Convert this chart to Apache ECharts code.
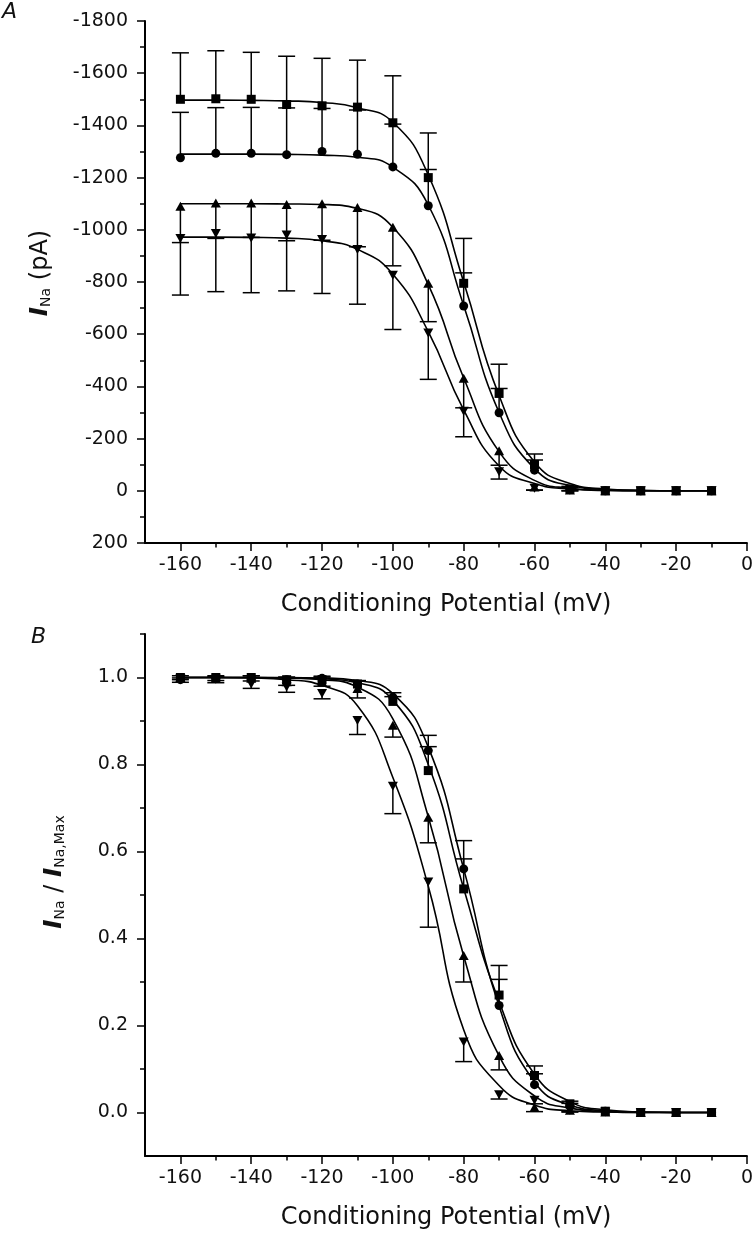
<!DOCTYPE html>
<html>
<head>
<meta charset="utf-8"/>
<title>INa inactivation</title>
<script src="https://cdn.jsdelivr.net/npm/echarts@6/dist/echarts.min.js"></script>
<style>
html, body { margin: 0; padding: 0; background: #fff; }
#main { width: 756px; height: 1240px; }
</style>
</head>
<body>
<div id="main"></div>
<script type="text/javascript">
// conditioning potentials (mV)
var volts = [-160, -150, -140, -130, -120, -110, -100, -90, -80, -70, -60, -50, -40, -30, -20, -10];

// panel A: peak current (pA)
var sqA = [-1500, -1502, -1500, -1480, -1475, -1470, -1410, -1200, -795, -373, -101, -7, 0, 0, 0, 0];
var ciA = [-1276, -1293, -1293, -1288, -1300, -1289, -1241, -1092, -708, -299, -79, -5, 0, 0, 0, 0];
var trA = [-1090, -1103, -1103, -1097, -1100, -1085, -1010, -795, -431, -153, -15, -3, 0, 0, 0, 0];
var itA = [-967, -986, -969, -980, -963, -925, -826, -605, -305, -73, -10, -2, 0, 0, 0, 0];
// error bars A (squares/circles drawn upward, triangles downward)
var sqErrA = [178, 184, 180, 185, 182, 180, 180, 171, 172, 112, 40, 10, 0, 0, 0, 0];
var ciErrA = [174, 175, 176, 179, 165, 170, 164, 139, 127, 93, 39, 8, 0, 0, 0, 0];
var trErrA = [139, 136, 132, 139, 140, 150, 148, 147, 113, 55, 12, 3, 0, 0, 0, 0];
var itErrA = [217, 223, 210, 214, 207, 210, 208, 178, 98, 28, 8, 2, 0, 0, 0, 0];
// fitted curves A
var sqFitA = [-1497, -1497, -1496, -1494, -1488, -1468, -1412, -1210, -800, -365, -110, -28, -7, -2, 0, 0];
var ciFitA = [-1290, -1290, -1290, -1289, -1286, -1278, -1240, -1095, -710, -300, -85, -20, -5, -1, 0, 0];
var trFitA = [-1100, -1100, -1100, -1099, -1097, -1082, -1010, -790, -432, -150, -40, -10, -2, 0, 0, 0];
var itFitA = [-972, -972, -971, -968, -958, -925, -830, -610, -310, -95, -28, -7, -1, 0, 0, 0];

// panel B: normalised current
var sqB = [1.0, 1.0, 1.0, 0.995, 0.995, 0.985, 0.945, 0.786, 0.514, 0.27, 0.085, 0.02, 0.003, 0, 0, 0];
var ciB = [0.995, 0.998, 1.0, 0.995, 0.998, 0.985, 0.955, 0.832, 0.56, 0.246, 0.064, 0.015, 0.003, 0, 0, 0];
var trB = [1.0, 0.998, 0.998, 0.99, 0.99, 0.975, 0.89, 0.679, 0.361, 0.131, 0.012, 0.005, 0.001, 0, 0, 0];
var itB = [0.997, 0.996, 0.985, 0.978, 0.963, 0.901, 0.75, 0.53, 0.162, 0.041, 0.028, 0.005, 0.001, 0, 0, 0];
var sqErrB = [0.004, 0.004, 0.004, 0.006, 0.006, 0.008, 0.011, 0.055, 0.069, 0.068, 0.022, 0.006, 0, 0, 0, 0];
var ciErrB = [0.004, 0.004, 0.004, 0.005, 0.005, 0.007, 0.01, 0.035, 0.065, 0.06, 0.025, 0.006, 0, 0, 0, 0];
var trErrB = [0.005, 0.005, 0.006, 0.008, 0.01, 0.022, 0.027, 0.059, 0.061, 0.033, 0.01, 0.004, 0, 0, 0, 0];
var itErrB = [0.008, 0.008, 0.01, 0.012, 0.012, 0.032, 0.063, 0.104, 0.045, 0.01, 0.008, 0.003, 0, 0, 0, 0];
var sqFitB = [1, 1, 1, 0.999, 0.997, 0.988, 0.948, 0.8, 0.515, 0.255, 0.088, 0.025, 0.006, 0.001, 0, 0];
var ciFitB = [1, 1, 1, 1, 0.999, 0.993, 0.963, 0.84, 0.56, 0.245, 0.07, 0.017, 0.004, 0.001, 0, 0];
var trFitB = [1, 1, 1, 0.999, 0.995, 0.978, 0.905, 0.68, 0.36, 0.13, 0.038, 0.01, 0.002, 0, 0, 0];
var itFitB = [1, 1, 0.999, 0.995, 0.982, 0.935, 0.77, 0.52, 0.19, 0.062, 0.017, 0.004, 0.001, 0, 0, 0];

// tick positions
var xMajor = [-160, -140, -120, -100, -80, -60, -40, -20, 0];
var xMinor = [-150, -130, -110, -90, -70, -50, -30, -10];
var yMajorA = [-1800, -1600, -1400, -1200, -1000, -800, -600, -400, -200, 0, 200];
var yMinorA = [-1700, -1500, -1300, -1100, -900, -700, -500, -300, -100, 100];
var yMajorB = [0, 0.2, 0.4, 0.6, 0.8, 1.0];
var yMinorB = [0.1, 0.3, 0.5, 0.7, 0.9, 1.1];

var FONT = 'DejaVu Sans';
var INK = '#111';

function xAxes(gridIndex) {
    return [{
        gridIndex: gridIndex, type: 'value', min: -170, max: 0, position: 'bottom',
        name: 'Conditioning Potential (mV)', nameLocation: 'middle', nameGap: 50,
        nameTextStyle: { fontFamily: FONT, fontSize: 24, color: INK },
        axisLine: { onZero: false, lineStyle: { color: '#000', width: 2 } },
        axisTick: { customValues: xMajor, length: 8, lineStyle: { color: '#000', width: 1.5 } },
        axisLabel: { customValues: xMajor, margin: 13, fontFamily: FONT, fontSize: 19, color: INK },
        splitLine: { show: false }
    }, {
        gridIndex: gridIndex, type: 'value', min: -170, max: 0, position: 'bottom',
        axisLine: { show: false, onZero: false },
        axisTick: { show: true, customValues: xMinor, length: 4.5, lineStyle: { color: '#000', width: 1.5 } },
        axisLabel: { show: false },
        splitLine: { show: false }
    }];
}

function yAxes(gridIndex, min, max, inverse, major, minor, fmt, name, gap, pad) {
    return [{
        gridIndex: gridIndex, type: 'value', min: min, max: max, inverse: inverse, position: 'left',
        name: name, nameLocation: 'middle', nameGap: gap,
        nameTextStyle: {
            fontFamily: FONT, fontSize: 24, color: INK, padding: [0, 0, 0, pad],
            rich: {
                i: { fontFamily: FONT, fontSize: 25, fontWeight: 'bold', fontStyle: 'italic', color: INK },
                s: { fontFamily: FONT, fontSize: 14, color: INK, verticalAlign: 'bottom', lineHeight: 22 },
                n: { fontFamily: FONT, fontSize: 24, color: INK }
            }
        },
        axisLine: { onZero: false, lineStyle: { color: '#000', width: 2 } },
        axisTick: { customValues: major, length: 8, lineStyle: { color: '#000', width: 1.5 } },
        axisLabel: { customValues: major, margin: 17, fontFamily: FONT, fontSize: 19, color: INK, formatter: fmt },
        splitLine: { show: false }
    }, {
        gridIndex: gridIndex, type: 'value', min: min, max: max, inverse: inverse, position: 'left',
        axisLine: { show: false, onZero: false },
        axisTick: { show: true, customValues: minor, length: 5, lineStyle: { color: '#000', width: 1.5 } },
        axisLabel: { show: false },
        splitLine: { show: false }
    }];
}

function errRender(params, api) {
    var x = api.value(0), y = api.value(1), e = api.value(2);
    var p0 = api.coord([x, y]);
    var p1 = api.coord([x, e]);
    var w = 8.5;
    var st = { stroke: '#000', lineWidth: 1.5 };
    return {
        type: 'group',
        children: [
            { type: 'line', shape: { x1: p0[0], y1: p0[1], x2: p1[0], y2: p1[1] }, style: st },
            { type: 'line', shape: { x1: p1[0] - w, y1: p1[1], x2: p1[0] + w, y2: p1[1] }, style: st }
        ]
    };
}

function pairs(vals) {
    return volts.map(function (v, i) { return [v, vals[i]]; });
}

function group(ax, vals, err, sign, fit, symbol, rotate, size) {
    var errData = [];
    volts.forEach(function (v, i) {
        if (err[i] > 0) errData.push([v, vals[i], vals[i] + sign * err[i]]);
    });
    return [{
        type: 'line', xAxisIndex: ax, yAxisIndex: ax, data: pairs(fit),
        showSymbol: false, smooth: 0.5,
        lineStyle: { color: '#000', width: 1.6 }, z: 2
    }, {
        type: 'custom', xAxisIndex: ax, yAxisIndex: ax, data: errData,
        renderItem: errRender, z: 3
    }, {
        type: 'scatter', xAxisIndex: ax, yAxisIndex: ax, data: pairs(vals),
        symbol: symbol, symbolRotate: rotate, symbolSize: size,
        itemStyle: { color: '#000', opacity: 1 }, z: 4
    }];
}

var series = [].concat(
    group(0, sqA, sqErrA, -1, sqFitA, 'rect', 0, 9),
    group(0, ciA, ciErrA, -1, ciFitA, 'circle', 0, 9),
    group(0, trA, trErrA, 1, trFitA, 'triangle', 0, [10, 9]),
    group(0, itA, itErrA, 1, itFitA, 'triangle', 180, [10, 9]),
    group(2, sqB, sqErrB, 1, sqFitB, 'rect', 0, 9),
    group(2, ciB, ciErrB, 1, ciFitB, 'circle', 0, 9),
    group(2, trB, trErrB, -1, trFitB, 'triangle', 0, [10, 9]),
    group(2, itB, itErrB, -1, itFitB, 'triangle', 180, [10, 9])
);

var option = {
    backgroundColor: '#fff',
    animation: false,
    grid: [
        { left: 145, top: 21, width: 602, height: 522 },
        { left: 145, top: 634, width: 602, height: 522 }
    ],
    xAxis: [].concat(xAxes(0), xAxes(1)),
    yAxis: [].concat(
        yAxes(0, -1800, 200, true, yMajorA, yMinorA, function (v) { return String(v); },
            '{i|I}{s|Na} {n|(pA)}', 92, 18),
        yAxes(1, -0.1, 1.1, false, yMajorB, yMinorB, function (v) { return v.toFixed(1); },
            '{i|I}{s|Na} {n|/} {i|I}{s|Na,Max}', 78, 46)
    ),
    graphic: [
        { type: 'text', left: 2, top: 1, style: { text: 'A', font: 'italic 22px "DejaVu Sans"', fill: INK } },
        { type: 'text', left: 31, top: 626, style: { text: 'B', font: 'italic 22px "DejaVu Sans"', fill: INK } }
    ],
    series: series
};

var myChart = echarts.init(document.getElementById('main'));
myChart.setOption(option);
</script>
</body>
</html>
